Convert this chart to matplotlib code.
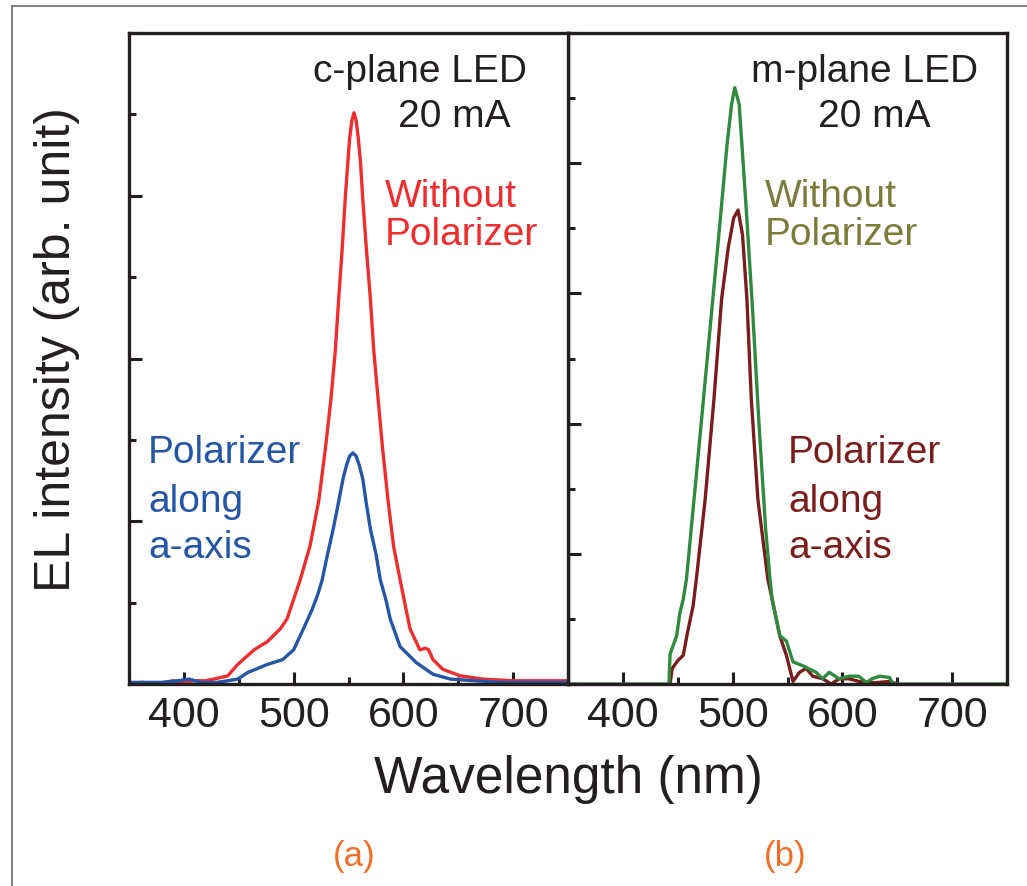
import matplotlib
matplotlib.use("Agg")
import matplotlib.pyplot as plt
from matplotlib.lines import Line2D

plt.rcParams["font.family"] = ["Liberation Sans", "DejaVu Sans"]

# c-plane LED, 20 mA
c_wl_free = [350, 362, 375, 390, 400, 410, 420, 427, 440, 449, 464, 476, 488, 494, 506, 515,
             523, 529, 534, 538, 541, 544, 547, 549, 551, 553, 555, 557, 559, 561, 563, 566,
             570, 573, 577, 581, 586, 591, 597, 606, 615, 620, 623, 627, 636, 652, 673, 700,
             720, 743, 750]
c_int_free = [0.0, 0.01, 0.0, 0.02, 0.01, 0.02, 0.02, 0.03, 0.05, 0.12, 0.21, 0.26, 0.34, 0.40, 0.64, 0.85,
              1.13, 1.45, 1.75, 2.05, 2.36, 2.65, 2.98, 3.17, 3.35, 3.46, 3.51, 3.46, 3.35, 3.2, 2.98, 2.7,
              2.36, 2.05, 1.75, 1.45, 1.13, 0.85, 0.64, 0.34, 0.21, 0.22, 0.21, 0.15, 0.09, 0.05, 0.03, 0.02,
              0.02, 0.02, 0.02]

c_wl_a = [350, 365, 380, 395, 405, 415, 430, 440, 449, 458, 476, 490, 500, 509, 517, 522, 526,
          531, 536, 541, 545, 548, 551, 554, 557, 560, 563, 566, 570, 575, 579, 584, 588, 597,
          612, 627, 643, 665, 690, 720, 750]
c_int_a = [0.01, 0.01, 0.01, 0.02, 0.03, 0.01, 0.01, 0.02, 0.03, 0.07, 0.12, 0.15, 0.21, 0.34, 0.46, 0.55, 0.64,
           0.8, 0.95, 1.12, 1.26, 1.34, 1.4, 1.42, 1.4, 1.34, 1.26, 1.12, 0.95, 0.8, 0.64, 0.52, 0.40, 0.23,
           0.13, 0.06, 0.03, 0.02, 0.01, 0.01, 0.01]

# m-plane LED, 20 mA
m_wl_free = [350, 400, 442, 443, 449, 452, 455, 458, 468, 478, 488, 495, 499, 502, 506, 512, 518,
             524, 530, 534, 536, 543, 549, 555, 564, 576, 582, 588, 597, 606, 615, 622, 627,
             634, 643, 646, 700, 750]
m_int_free = [0.0, 0.0, 0.0, 0.23, 0.37, 0.55, 0.65, 0.81, 1.7, 2.6, 3.5, 4.15, 4.45, 4.58, 4.45, 3.7, 2.9,
              2.0, 1.2, 0.81, 0.65, 0.37, 0.33, 0.17, 0.14, 0.09, 0.04, 0.09, 0.04, 0.06, 0.06, 0.01, 0.04,
              0.06, 0.05, 0.0, 0.0, 0.0]

m_wl_a = [443, 445, 450, 455, 459, 464, 467, 475, 483, 490, 496, 501, 505, 509, 513, 517, 523,
          532, 543, 549, 555, 561, 567, 573, 582, 590, 597, 606, 615, 630, 643, 650]
m_int_a = [0.0, 0.12, 0.18, 0.22, 0.40, 0.60, 0.81, 1.42, 2.19, 2.96, 3.35, 3.58, 3.64, 3.45, 2.96, 2.19, 1.42,
           0.81, 0.37, 0.22, 0.02, 0.09, 0.12, 0.06, 0.04, 0.0, 0.04, 0.04, 0.02, 0.01, 0.02, 0.0]

x_ticks = [400, 500, 600, 700]

RED = "#ee2d2f"
BLUE = "#2556a6"
GREEN = "#2f8a3f"
DARKRED = "#7a1d1d"
OLIVE = "#7c7c3a"
ORANGE = "#f0702a"
INK = "#231f20"

W, H = 1027, 887


def fx(px):
    return px / W


def fy(py):
    return 1 - py / H


def style_axis(ax, ymax):
    ax.set_xlim(350, 750)
    ax.set_ylim(0, ymax)
    ax.set_xticks(x_ticks)
    ax.set_xticks([450, 550, 650], minor=True)
    ax.set_yticks(range(0, ymax + 1))
    ax.set_yticks([i + 0.5 for i in range(ymax)], minor=True)
    ax.set_yticklabels([])
    ax.tick_params(which="both", direction="in", width=2.2, color=INK,
                   top=False, right=False, labelsize=31, labelcolor=INK, pad=8)
    ax.tick_params(which="major", length=9)
    ax.tick_params(which="minor", length=5)
    for s in ax.spines.values():
        s.set_linewidth(2.4)
        s.set_color(INK)


fig = plt.figure(figsize=(W / 100, H / 100), dpi=100)
ax1 = fig.add_axes([fx(129), fy(685), 439 / W, 651 / H])
ax2 = fig.add_axes([fx(568), fy(685), 439 / W, 651 / H])

ax1.plot(c_wl_free, c_int_free, color=RED, lw=2.4)
ax1.plot(c_wl_a, c_int_a, color=BLUE, lw=2.4)
style_axis(ax1, 4)

ax2.plot(m_wl_a, m_int_a, color=DARKRED, lw=2.4)
ax2.plot(m_wl_free, m_int_free, color=GREEN, lw=2.4)
style_axis(ax2, 5)
ax1.set_zorder(2)

# annotations
fs = 28
fig.text(fx(527), fy(82), "c-plane LED", ha="right", va="baseline", fontsize=fs, color=INK)
fig.text(fx(510), fy(127), "20 mA", ha="right", va="baseline", fontsize=fs, color=INK)
fig.text(fx(385), fy(207), "Without", ha="left", va="baseline", fontsize=fs, color=RED)
fig.text(fx(385), fy(245), "Polarizer", ha="left", va="baseline", fontsize=fs, color=RED)
for txt, yb in [("Polarizer", 463), ("along", 512), ("a-axis", 558)]:
    fig.text(fx(148), fy(yb), txt, ha="left", va="baseline", fontsize=fs, color=BLUE)

fig.text(fx(978), fy(82), "m-plane LED", ha="right", va="baseline", fontsize=fs, color=INK)
fig.text(fx(930), fy(127), "20 mA", ha="right", va="baseline", fontsize=fs, color=INK)
fig.text(fx(765), fy(207), "Without", ha="left", va="baseline", fontsize=fs, color=OLIVE)
fig.text(fx(765), fy(245), "Polarizer", ha="left", va="baseline", fontsize=fs, color=OLIVE)
for txt, yb in [("Polarizer", 463), ("along", 512), ("a-axis", 558)]:
    fig.text(fx(788), fy(yb), txt, ha="left", va="baseline", fontsize=fs, color=DARKRED)

fig.text(fx(568), fy(793), "Wavelength (nm)", ha="center", va="baseline", fontsize=37, color=INK)
fig.text(fx(57), fy(350), "EL intensity (arb. unit)", ha="center", va="center",
         rotation=90, fontsize=36, color=INK)

fig.text(fx(354), fy(866), "(a)", ha="center", va="baseline", fontsize=25, color=ORANGE,
         family=["Liberation Sans Narrow", "Liberation Sans"])
fig.text(fx(785), fy(866), "(b)", ha="center", va="baseline", fontsize=25, color=ORANGE,
         family=["Liberation Sans Narrow", "Liberation Sans"])

# outer frame
fig.add_artist(Line2D([fx(12), 1.0], [fy(7), fy(7)], transform=fig.transFigure, color="#6d6d6d", lw=1.2))
fig.add_artist(Line2D([fx(12), fx(12)], [0.0, fy(7)], transform=fig.transFigure, color="#6d6d6d", lw=1.2))

fig.savefig("out.png", dpi=100, facecolor="white")
